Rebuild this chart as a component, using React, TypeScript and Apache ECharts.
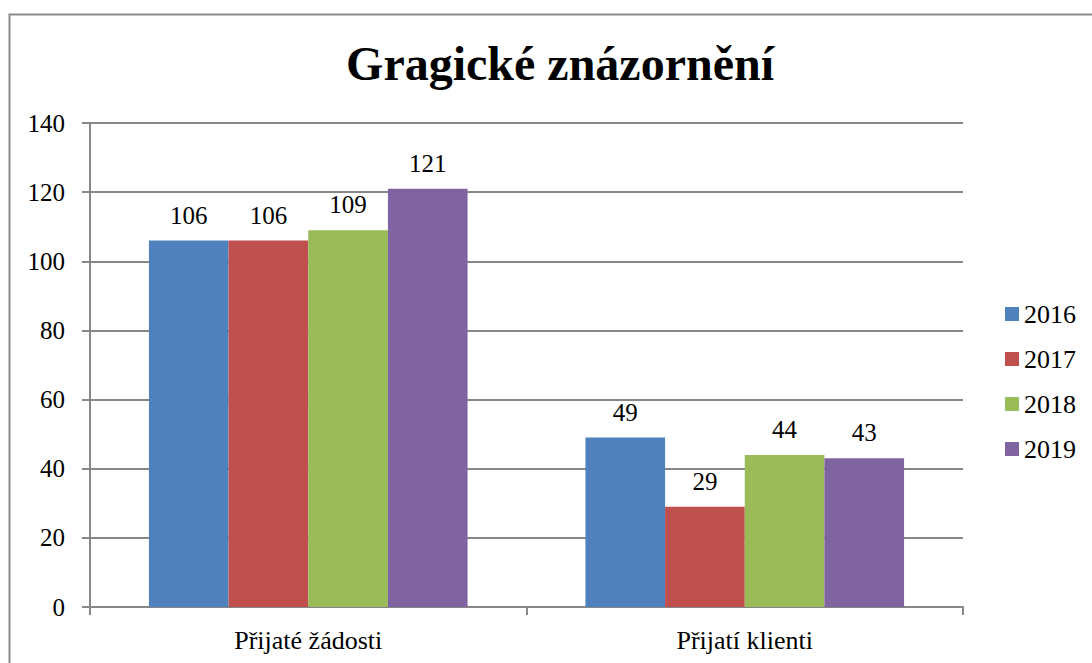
import React, { useEffect, useRef } from "react";
import * as echarts from "echarts";

const categories = ["Přijaté žádosti", "Přijatí klienti"];
const seriesNames = ["2016", "2017", "2018", "2019"];
const values2016 = [106, 49];
const values2017 = [106, 29];
const values2018 = [109, 44];
const values2019 = [121, 43];
const colors = ["#4F81BD", "#C0504D", "#9BBB59", "#8064A2"];
const titleText = "Gragické znázornění";

const FONT = "Liberation Serif";

export default function App() {
  const ref = useRef<HTMLDivElement>(null);
  useEffect(() => {
    if (!ref.current) return;
    const chart = echarts.init(ref.current, undefined, { renderer: "svg" });
    const allValues = [values2016, values2017, values2018, values2019];
    chart.setOption({
      animation: false,
      backgroundColor: "#ffffff",
      textStyle: { fontFamily: FONT, color: "#000" },
      title: {
        text: titleText,
        left: 555,
        textAlign: "center",
        top: 34,
        textStyle: { fontFamily: FONT, fontSize: 48, fontWeight: "bold", color: "#000" },
      },
      graphic: [
        {
          type: "rect",
          shape: { x: 9.5, y: 14.5, width: 1200, height: 800 },
          style: { fill: "none", stroke: "#8c8c8c", lineWidth: 2 },
          silent: true,
        },
      ],
      legend: {
        orient: "vertical",
        left: 1000,
        top: 296,
        itemWidth: 14,
        itemHeight: 14,
        itemGap: 19,
        icon: "rect",
        textStyle: { fontFamily: FONT, fontSize: 26, color: "#000" },
        data: seriesNames,
      },
      grid: { left: 90, right: 129, top: 123, bottom: 56, containLabel: false },
      xAxis: {
        type: "category",
        data: categories,
        axisLine: { show: true, lineStyle: { color: "#878787", width: 2 } },
        axisTick: { show: true, length: 8, lineStyle: { color: "#878787", width: 2 } },
        axisLabel: { fontFamily: FONT, fontSize: 26, color: "#000", margin: 20 },
      },
      yAxis: {
        type: "value",
        min: 0,
        max: 140,
        interval: 20,
        axisLine: { show: true, lineStyle: { color: "#878787", width: 2 } },
        axisTick: { show: true, length: 8, inside: false, lineStyle: { color: "#878787", width: 2 } },
        axisLabel: { fontFamily: FONT, fontSize: 25, color: "#000", margin: 25 },
        splitLine: { show: true, lineStyle: { color: "#878787", width: 2 } },
      },
      series: seriesNames.map((name, i) => ({
        name,
        type: "bar",
        data: allValues[i],
        barGap: "0%",
        barCategoryGap: "27%",
        itemStyle: { color: colors[i] },
        label: {
          show: true,
          position: "top",
          distance: 13,
          fontFamily: FONT,
          fontSize: 25,
          color: "#000",
        },
      })),
    });
    return () => chart.dispose();
  }, []);
  return (
    <div
      ref={ref}
      style={{ position: "fixed", left: 0, top: 0, width: 1092, height: 663 }}
    />
  );
}
